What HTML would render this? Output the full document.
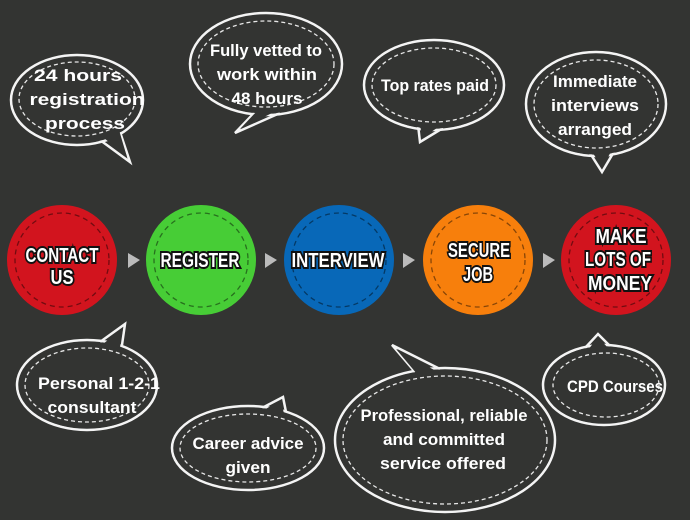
<!DOCTYPE html>
<html><head><style>
body{margin:0;background:#333432}
svg{display:block}
.b{fill:none;stroke:#f4f4f4;stroke-width:2.5}
.f{fill:#333432;stroke:none}
.d{fill:none;stroke:#e8e8e8;stroke-width:1.3;stroke-dasharray:4 3}
.t{fill:#fff;font-family:"Liberation Sans",sans-serif;font-weight:bold;font-size:17px;text-anchor:middle}
.c{fill:#fff;font-family:"Liberation Sans",sans-serif;font-weight:bold;font-size:20px;text-anchor:middle;stroke:#111;stroke-width:4;paint-order:stroke}
.cd{fill:none;stroke:rgba(0,0,0,0.45);stroke-width:1.3;stroke-dasharray:5 4}
</style></head><body>
<svg width="690" height="520" viewBox="0 0 690 520">
<rect width="690" height="520" fill="#333432"/>
<!-- bubbles: ellipse stroke, tail stroke, ellipse fill, tail fill -->
<g>
<ellipse class="b" cx="77" cy="100" rx="66" ry="45"/><path class="b" d="M100,140 L130,162 L120,132"/>
<ellipse class="b" cx="266" cy="64" rx="76" ry="51"/><path class="b" d="M255,112 L235,133 L280,113"/>
<ellipse class="b" cx="434" cy="85" rx="70" ry="45"/><path class="b" d="M418,125 L420,142 L443,128"/>
<ellipse class="b" cx="596" cy="104" rx="70" ry="52"/><path class="b" d="M588,150 L602,172 L615,150"/>
<ellipse class="b" cx="87" cy="385" rx="70" ry="45"/><path class="b" d="M100,342 L125,324 L122,345"/>
<ellipse class="b" cx="248" cy="448" rx="76" ry="42"/><path class="b" d="M262,408 L283,397 L286,412"/>
<ellipse class="b" cx="445" cy="440" rx="110" ry="72"/><path class="b" d="M415,372 L392,345 L440,369"/>
<ellipse class="b" cx="604" cy="385" rx="61" ry="40"/><path class="b" d="M585,348 L598,334 L610,346"/>
</g>
<g class="f">
<ellipse cx="77" cy="100" rx="64.5" ry="43.5"/><polygon points="104,138 127,157 119,130 100,132"/>
<ellipse cx="266" cy="64" rx="74.5" ry="49.5"/><polygon points="258,110 240,129 278,110 266,105"/>
<ellipse cx="434" cy="85" rx="68.5" ry="43.5"/><polygon points="420,124 422,138 440,126 430,118"/>
<ellipse cx="596" cy="104" rx="68.5" ry="50.5"/><polygon points="590,148 602,168 613,148 600,140"/>
<ellipse cx="87" cy="385" rx="68.5" ry="43.5"/><polygon points="103,344 123,328 120,347 110,350"/>
<ellipse cx="248" cy="448" rx="74.5" ry="40.5"/><polygon points="264,410 281,400 284,414 270,418"/>
<ellipse cx="445" cy="440" rx="108.5" ry="70.5"/><polygon points="417,374 396,349 436,371 425,380"/>
<ellipse cx="604" cy="385" rx="59.5" ry="38.5"/><polygon points="588,350 598,337 608,348 598,354"/>
</g>
<g>
<ellipse class="d" cx="77" cy="99" rx="58" ry="37"/>
<text class="t" x="78" y="81" textLength="88" lengthAdjust="spacingAndGlyphs">24 hours</text><text class="t" x="87" y="105" textLength="115" lengthAdjust="spacingAndGlyphs">registration</text><text class="t" x="85" y="129" textLength="80" lengthAdjust="spacingAndGlyphs">process</text>
<ellipse class="d" cx="266" cy="64" rx="68" ry="43"/>
<text class="t" x="266" y="56" textLength="112" lengthAdjust="spacingAndGlyphs">Fully vetted to</text><text class="t" x="267" y="80" textLength="100" lengthAdjust="spacingAndGlyphs">work within</text><text class="t" x="267" y="104" textLength="71" lengthAdjust="spacingAndGlyphs">48 hours</text>
<ellipse class="d" cx="434" cy="85" rx="62" ry="37"/>
<text class="t" x="435" y="91" textLength="108" lengthAdjust="spacingAndGlyphs">Top rates paid</text>
<ellipse class="d" cx="596" cy="104" rx="62" ry="44"/>
<text class="t" x="595" y="87" textLength="84" lengthAdjust="spacingAndGlyphs">Immediate</text><text class="t" x="595" y="111" textLength="88" lengthAdjust="spacingAndGlyphs">interviews</text><text class="t" x="595" y="135" textLength="74" lengthAdjust="spacingAndGlyphs">arranged</text>
<ellipse class="d" cx="87" cy="385" rx="62" ry="37"/>
<text class="t" x="99" y="389" textLength="122" lengthAdjust="spacingAndGlyphs">Personal 1-2-1</text><text class="t" x="92" y="413" textLength="89" lengthAdjust="spacingAndGlyphs">consultant</text>
<ellipse class="d" cx="248" cy="448" rx="68" ry="34"/>
<text class="t" x="248" y="449" textLength="111" lengthAdjust="spacingAndGlyphs">Career advice</text><text class="t" x="248" y="473" textLength="45" lengthAdjust="spacingAndGlyphs">given</text>
<ellipse class="d" cx="445" cy="440" rx="102" ry="64"/>
<text class="t" x="444" y="421" textLength="167" lengthAdjust="spacingAndGlyphs">Professional, reliable</text><text class="t" x="444" y="445" textLength="122" lengthAdjust="spacingAndGlyphs">and committed</text><text class="t" x="443" y="469" textLength="126" lengthAdjust="spacingAndGlyphs">service offered</text>
<ellipse class="d" cx="606" cy="385" rx="53" ry="32"/>
<text class="t" x="615" y="392" textLength="96" lengthAdjust="spacingAndGlyphs">CPD Courses</text>
</g>
<!-- circles -->
<circle cx="62" cy="260" r="55" fill="#d2141e"/><circle class="cd" cx="62" cy="260" r="47"/>
<circle cx="201" cy="260" r="55" fill="#47cd36"/><circle class="cd" cx="201" cy="260" r="47"/>
<circle cx="339" cy="260" r="55" fill="#0868b8"/><circle class="cd" cx="339" cy="260" r="47"/>
<circle cx="478" cy="260" r="55" fill="#f77f0c"/><circle class="cd" cx="478" cy="260" r="47"/>
<circle cx="616" cy="260" r="55" fill="#d2141e"/><circle class="cd" cx="616" cy="260" r="47"/>
<text class="c" x="62" y="262" textLength="73" lengthAdjust="spacingAndGlyphs">CONTACT</text><text class="c" x="62" y="284" textLength="23" lengthAdjust="spacingAndGlyphs">US</text>
<text class="c" x="200" y="267" textLength="79" lengthAdjust="spacingAndGlyphs">REGISTER</text>
<text class="c" x="338" y="267" textLength="93" lengthAdjust="spacingAndGlyphs">INTERVIEW</text>
<text class="c" x="479" y="257" textLength="62" lengthAdjust="spacingAndGlyphs">SECURE</text><text class="c" x="478" y="281" textLength="30" lengthAdjust="spacingAndGlyphs">JOB</text>
<text class="c" x="621" y="243" textLength="51" lengthAdjust="spacingAndGlyphs">MAKE</text><text class="c" x="618" y="266" textLength="66" lengthAdjust="spacingAndGlyphs">LOTS OF</text><text class="c" x="620" y="290" textLength="64" lengthAdjust="spacingAndGlyphs">MONEY</text>
<g fill="#bbb">
<polygon points="128,253 128,268 140,260"/>
<polygon points="265,253 265,268 277,260"/>
<polygon points="403,253 403,268 415,260"/>
<polygon points="543,253 543,268 555,260"/>
</g>
</svg>
</body></html>
